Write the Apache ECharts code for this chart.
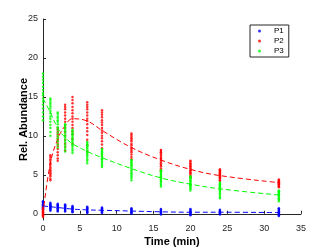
<!DOCTYPE html>
<html><head><meta charset="utf-8">
<script src="https://cdn.jsdelivr.net/npm/echarts@6/dist/echarts.min.js"></script>
<style>html,body{margin:0;padding:0;background:#fff}#c{width:332px;height:249px}</style>
</head><body><div id="c"></div>
<script>
var times = [0,1,2,3,4,6,8,12,16,20,24,32];
var seriesNames = ['P1','P2','P3'];
var xTicks = [0,5,10,15,20,25,30,35];
var yTicks = [0,5,10,15,20,25];

var p1Fit = [1.0,0.9,0.8,0.7,0.6,0.5,0.45,0.35,0.25,0.2,0.2,0.15];
var p2Fit = [0.0,6.5,9.6,11.3,12.2,11.9,10.7,8.5,6.9,5.7,4.9,4.0];
var p3Fit = [14.8,13.0,11.0,9.8,9.0,8.0,7.2,5.8,4.6,3.8,3.2,2.4];

var p1Reps = [
 [0.5,0.6,0.7,0.8,0.9,1.0,1.1,1.2,1.3,1.4,1.5,1.6],
 [0.4,0.5,0.6,0.7,0.8,0.9,1.0,1.1,1.2,1.3,1.4],
 [0.3,0.4,0.5,0.6,0.7,0.8,0.9,1.0,1.1,1.2,1.3],
 [0.3,0.4,0.5,0.6,0.7,0.8,0.9,1.0,1.1,1.2],
 [0.2,0.3,0.4,0.5,0.6,0.7,0.8,0.9,1.0],
 [0.1,0.2,0.3,0.4,0.5,0.6,0.7,0.8,0.9],
 [0.1,0.2,0.3,0.4,0.5,0.6,0.7,0.8],
 [0.0,0.1,0.2,0.3,0.4,0.5,0.6,0.7],
 [-0.1,0.0,0.1,0.2,0.3,0.4,0.5,0.6],
 [-0.2,-0.1,0.0,0.1,0.2,0.3,0.4,0.5,0.6],
 [-0.1,0.0,0.1,0.2,0.3,0.4,0.5],
 [-0.3,-0.2,-0.1,0.0,0.1,0.2,0.3,0.4,0.5,0.6,0.7]
];
var p2Reps = [
 [-0.4,-0.3,-0.2,-0.1,0.0,0.1,0.2,0.3,0.4,0.5,0.6,0.8],
 [4.3,4.5,4.8,5.0,5.2,5.4,5.6,5.8,6.0,6.3,6.5,6.8,7.0,7.3,7.5],
 [6.8,7.1,7.5,7.9,8.3,8.7,9.0,9.3,9.6,9.9,10.2,10.5,10.8,11.0],
 [8.1,8.6,9.0,9.5,10.0,10.5,11.0,11.4,11.8,12.2,12.6,13.0,13.4,13.7,14.0],
 [9.0,9.6,10.2,10.6,11.0,11.4,11.8,12.2,12.5,12.9,13.3,13.7,14.2,14.6,15.0],
 [8.0,8.8,9.5,10.1,10.6,11.0,11.5,11.9,12.2,12.6,13.0,13.4,13.7,14.0,14.3],
 [8.4,8.9,9.3,9.7,10.0,10.4,10.7,11.0,11.4,11.7,12.0,12.4,12.7,13.0,13.3],
 [7.0,7.3,7.6,7.9,8.1,8.3,8.5,8.8,9.0,9.3,9.5,9.7,9.9,10.1,10.3],
 [5.6,5.8,6.1,6.3,6.5,6.7,6.9,7.1,7.2,7.4,7.6,7.8,7.9,8.1,8.2],
 [4.6,4.8,5.0,5.2,5.3,5.5,5.6,5.8,5.9,6.1,6.2,6.4,6.5,6.7,6.8],
 [4.2,4.3,4.5,4.6,4.7,4.8,4.9,5.0,5.1,5.2,5.3,5.4,5.5,5.6,5.7],
 [3.4,3.5,3.6,3.7,3.8,3.85,3.9,4.0,4.05,4.1,4.2,4.3,4.4]
];
var p3Reps = [
 [12.0,12.5,13.0,13.5,14.0,14.4,14.8,15.2,15.5,15.9,16.3,16.8,17.2,17.6,18.0],
 [10.0,10.5,11.0,11.4,11.8,12.2,12.5,12.9,13.2,13.5,13.8,14.1,14.3,14.6,14.8],
 [8.5,8.9,9.3,9.7,10.0,10.4,10.8,11.1,11.5,11.8,12.0,12.3,12.5,12.8,13.0],
 [8.0,8.3,8.6,8.9,9.2,9.5,9.8,10.0,10.3,10.6,10.8,11.0,11.2,11.4,11.5],
 [7.8,8.1,8.3,8.6,8.8,9.0,9.2,9.4,9.6,9.8,10.0,10.2,10.4,10.6,10.8],
 [6.5,6.8,7.0,7.3,7.5,7.7,7.9,8.1,8.3,8.5,8.6,8.8,8.9,9.1,9.2],
 [6.0,6.2,6.4,6.6,6.8,7.0,7.1,7.3,7.4,7.6,7.7,7.9,8.0,8.2,8.3],
 [4.3,4.6,4.8,5.0,5.2,5.4,5.6,5.8,6.0,6.2,6.3,6.5,6.6,6.8,6.9],
 [3.5,3.7,3.9,4.1,4.2,4.4,4.5,4.7,4.8,5.0,5.1,5.3,5.4,5.5,5.6],
 [3.0,3.2,3.3,3.5,3.6,3.7,3.8,3.9,4.0,4.2,4.3,4.5,4.6,4.7,4.8],
 [2.0,2.2,2.4,2.6,2.8,3.0,3.1,3.2,3.4,3.5,3.6,3.7,3.8,3.9,4.0],
 [1.6,1.8,1.9,2.0,2.2,2.3,2.4,2.5,2.6,2.7,2.8,2.85,2.9,3.0]
];

var colors = ['#0000ff','#ff0000','#00ff00'];
var reps = [p1Reps,p2Reps,p3Reps];
var fits = [p1Fit,p2Fit,p3Fit];

function repData(r){
  var out=[];
  for(var i=0;i<times.length;i++){ r[i].forEach(function(v){ out.push([times[i],v]); }); }
  return out;
}
function fitData(f){ return times.map(function(t,i){ return [t,f[i]]; }); }

var series=[];
for(var k=0;k<3;k++){
  series.push({name:seriesNames[k],type:'scatter',data:repData(reps[k]),symbol:'circle',symbolSize:2.5,
    itemStyle:{color:colors[k]},z:2+k});
}
for(var k=0;k<3;k++){
  series.push({name:'fit'+k,type:'line',data:fitData(fits[k]),smooth:0.4,symbol:'none',
    lineStyle:{color:colors[k],width:1,type:[5,3]},z:2+k});
}

var axisCol='#262626';
var chart=echarts.init(document.getElementById('c'),null,{renderer:'canvas'});
chart.setOption({
  animation:false,
  backgroundColor:'#fff',
  grid:{left:43,right:31,top:19,bottom:29,outerBoundsMode:'none',containLabel:false},
  legend:{data:seriesNames,orient:'vertical',left:250,top:25,
    icon:'circle',itemWidth:19,itemHeight:3,itemGap:0,
    padding:[1,5,1,8],borderColor:axisCol,borderWidth:1,
    textStyle:{fontSize:8,lineHeight:10,color:'#000',fontFamily:'Liberation Sans'}},
  xAxis:{type:'value',min:0,max:35,interval:5,
    name:'Time (min)',nameLocation:'middle',nameGap:16,nameMoveOverlap:false,
    nameTextStyle:{fontSize:11,fontWeight:'bold',color:'#000',fontFamily:'Liberation Sans'},
    axisLine:{lineStyle:{color:axisCol}},
    axisTick:{inside:true,length:3,lineStyle:{color:axisCol},customValues:xTicks},
    axisLabel:{fontSize:9,color:axisCol,margin:4,fontFamily:'Liberation Sans',customValues:xTicks},
    splitLine:{show:false}},
  yAxis:{type:'value',min:-0.8,max:25,
    name:'Rel. Abundance',nameLocation:'middle',nameGap:14,nameMoveOverlap:false,
    nameTextStyle:{fontSize:11,fontWeight:'bold',color:'#000',fontFamily:'Liberation Sans'},
    axisLine:{show:true,lineStyle:{color:axisCol}},
    axisTick:{show:true,inside:true,length:3,lineStyle:{color:axisCol},customValues:yTicks},
    axisLabel:{fontSize:9,color:axisCol,margin:5,fontFamily:'Liberation Sans',customValues:yTicks},
    splitLine:{show:false}},
  series:series
});
</script></body></html>
